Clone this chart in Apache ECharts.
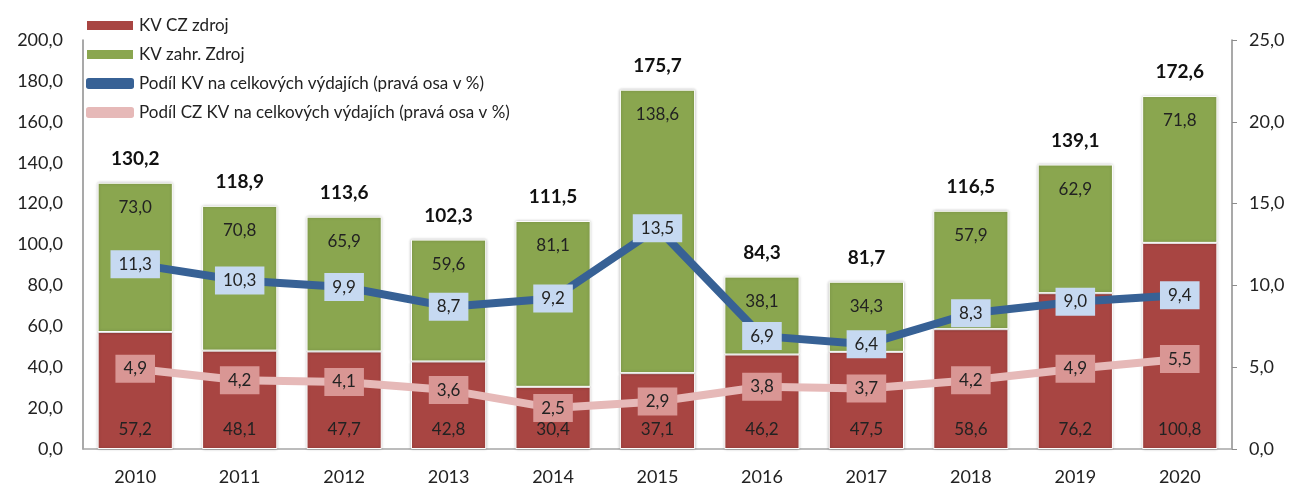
<!DOCTYPE html>
<html>
<head>
<meta charset="utf-8">
<script src="https://cdn.jsdelivr.net/npm/echarts@6/dist/echarts.min.js"></script>
<style>
  html, body { margin: 0; padding: 0; background: #fff; }
  #chart { width: 1293px; height: 486px; }
</style>
</head>
<body>
<div id="chart"></div>
<script>
// roky
var years = ['2010', '2011', '2012', '2013', '2014', '2015', '2016', '2017', '2018', '2019', '2020'];
// KV CZ zdroj
var czZdroj = [57.2, 48.1, 47.7, 42.8, 30.4, 37.1, 46.2, 47.5, 58.6, 76.2, 100.8];
// KV zahr. zdroj
var zahrZdroj = [73.0, 70.8, 65.9, 59.6, 81.1, 138.6, 38.1, 34.3, 57.9, 62.9, 71.8];
// soucty nad sloupci
var totals = [130.2, 118.9, 113.6, 102.3, 111.5, 175.7, 84.3, 81.7, 116.5, 139.1, 172.6];
// podily v % (prava osa)
var podilKV = [11.3, 10.3, 9.9, 8.7, 9.2, 13.5, 6.9, 6.4, 8.3, 9.0, 9.4];
var podilCZ = [4.9, 4.2, 4.1, 3.6, 2.5, 2.9, 3.8, 3.7, 4.2, 4.9, 5.5];

var font = 'Lato, "Open Sans", sans-serif';

function fmt(v) {
  return Number(v).toFixed(1).replace('.', ',');
}

var chart = echarts.init(document.getElementById('chart'));

chart.setOption({
  animation: false,
  textStyle: { fontFamily: font },
  grid: {
    left: 83,
    right: 61,
    top: 40,
    bottom: 36
  },
  legend: {
    orient: 'vertical',
    left: 80,
    top: 12,
    itemWidth: 48,
    itemHeight: 11,
    itemGap: 12,
    textStyle: { fontSize: 17, color: '#222', fontFamily: font },
    data: [
      { name: 'KV CZ zdroj', icon: 'rect' },
      { name: 'KV zahr. Zdroj', icon: 'rect' },
      { name: 'Podíl KV na celkových výdajích (pravá osa v %)', icon: 'roundRect' },
      { name: 'Podíl CZ KV na celkových výdajích (pravá osa v %)', icon: 'roundRect' }
    ]
  },
  xAxis: {
    type: 'category',
    data: years,
    axisLine: { lineStyle: { color: '#a6a6a6', width: 1.5 } },
    axisTick: { show: false },
    axisLabel: { fontSize: 18, color: '#222', margin: 19 }
  },
  yAxis: [
    {
      type: 'value',
      min: 0,
      max: 200,
      interval: 20,
      splitLine: { show: false },
      axisLine: { show: true, lineStyle: { color: '#8c8c8c', width: 1.5 } },
      axisTick: { show: false },
      axisLabel: { fontSize: 18, color: '#222', margin: 20, formatter: fmt }
    },
    {
      type: 'value',
      min: 0,
      max: 25,
      interval: 5,
      splitLine: { show: false },
      axisLine: { show: true, lineStyle: { color: '#8c8c8c', width: 1.5 } },
      axisTick: { show: true, length: 5, lineStyle: { color: '#8c8c8c' } },
      axisLabel: { fontSize: 18, color: '#222', margin: 17, formatter: fmt }
    }
  ],
  series: [
    {
      name: 'KV CZ zdroj',
      type: 'bar',
      stack: 'kv',
      data: czZdroj,
      barCategoryGap: '28%',
      itemStyle: {
        color: '#a84542',
        borderColor: '#fff',
        borderWidth: 1,
        shadowColor: 'rgba(0,0,0,0.25)',
        shadowBlur: 3
      },
      label: {
        show: true,
        position: 'insideBottom',
        distance: 11,
        fontSize: 17,
        color: '#222',
        formatter: function (p) { return fmt(p.value); }
      }
    },
    {
      name: 'KV zahr. Zdroj',
      type: 'bar',
      stack: 'kv',
      data: zahrZdroj,
      itemStyle: {
        color: '#8aa64f',
        borderColor: '#fff',
        borderWidth: 1,
        shadowColor: 'rgba(0,0,0,0.25)',
        shadowBlur: 3
      },
      label: {
        show: true,
        position: 'insideTop',
        distance: 16,
        fontSize: 17,
        color: '#222',
        formatter: function (p) { return fmt(p.value); }
      }
    },
    {
      name: 'soucet',
      type: 'line',
      data: totals,
      symbol: 'circle',
      symbolSize: 1,
      itemStyle: { color: 'rgba(0,0,0,0)' },
      lineStyle: { width: 0, opacity: 0 },
      label: {
        show: true,
        position: 'top',
        distance: 14,
        fontSize: 19,
        fontWeight: 'bold',
        color: '#111',
        formatter: function (p) { return fmt(p.value); }
      },
      z: 5
    },
    {
      name: 'Podíl KV na celkových výdajích (pravá osa v %)',
      type: 'line',
      yAxisIndex: 1,
      data: podilKV,
      symbol: 'circle',
      symbolSize: 2,
      itemStyle: { color: '#376195' },
      lineStyle: { color: '#376195', width: 8 },
      label: {
        show: true,
        position: 'inside',
        fontSize: 17,
        color: '#222',
        backgroundColor: '#c6d9f1',
        padding: [6, 8, 5, 8],
        formatter: function (p) { return fmt(p.value); }
      },
      z: 4
    },
    {
      name: 'Podíl CZ KV na celkových výdajích (pravá osa v %)',
      type: 'line',
      yAxisIndex: 1,
      data: podilCZ,
      symbol: 'circle',
      symbolSize: 2,
      itemStyle: { color: '#e6b9b8' },
      lineStyle: { color: '#e6b9b8', width: 8 },
      label: {
        show: true,
        position: 'inside',
        fontSize: 17,
        color: '#222',
        backgroundColor: '#d99694',
        padding: [6, 8, 5, 8],
        formatter: function (p) { return fmt(p.value); }
      },
      z: 4
    }
  ]
});
</script>
</body>
</html>
